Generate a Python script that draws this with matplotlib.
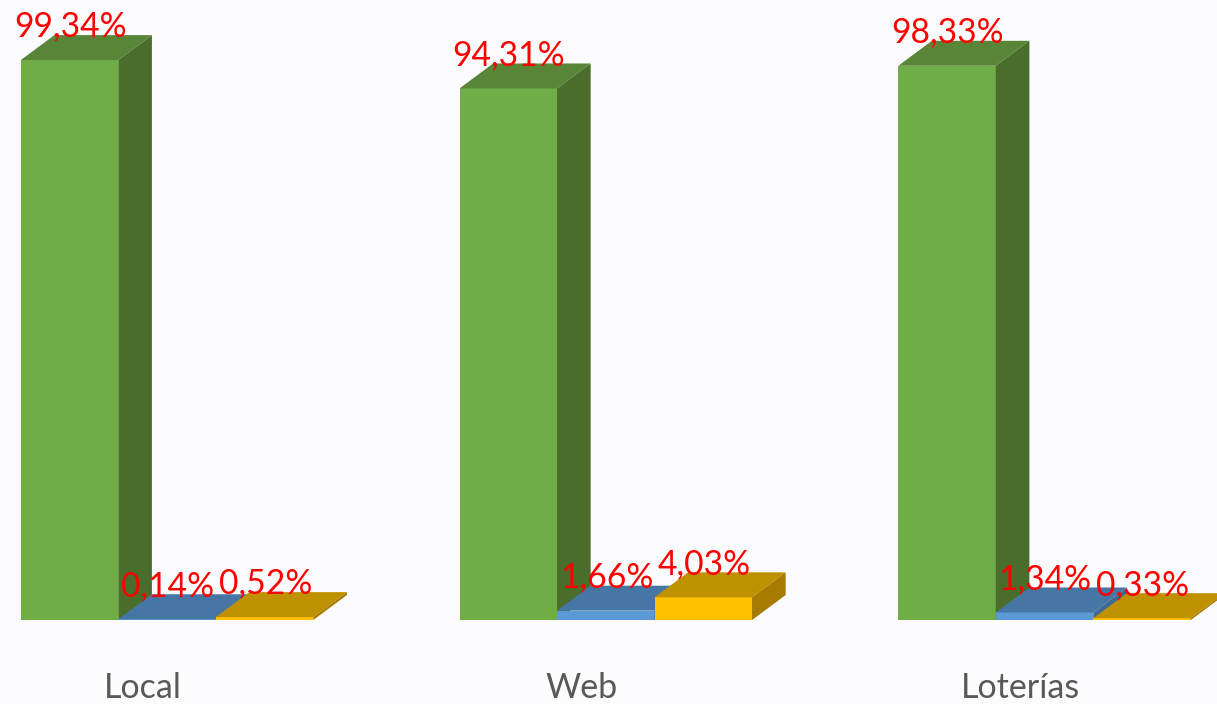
import matplotlib
matplotlib.use('Agg')
import matplotlib.pyplot as plt

# Define the data
categories = ['Local', 'Web', 'Loterías']
green_values = [99.34, 94.31, 98.33]
blue_values = [0.14, 1.66, 1.34]
gold_values = [0.52, 4.03, 0.33]
green_labels = ['99,34%', '94,31%', '98,33%']
blue_labels = ['0,14%', '1,66%', '1,34%']
gold_labels = ['0,52%', '4,03%', '0,33%']

# (front, top, side) colours of each series
green_colors = ('#70AD47', '#598538', '#4A6D2C')
blue_colors = ('#5B9BD5', '#4676A3', '#3E6A93')
gold_colors = ('#FFC000', '#BF9000', '#A67C00')

plt.rcParams['font.family'] = ['Lato', 'DejaVu Sans']

fig = plt.figure(figsize=(12.17, 7.04), dpi=100, facecolor='#FCFCFE')
ax = fig.add_axes([0, 0, 1, 1])
ax.set_xlim(-1.713, 10.769)
ax.set_ylim(-14.9, 110.0)
ax.axis('off')

bar_width = 1.0
group_step = 4.5
depth_x = 0.345
depth_y = 4.43


def draw_bar(x, value, colors, label):
    front, top, side = colors
    left = x - bar_width / 2
    right = x + bar_width / 2
    ax.bar(x, value, width=bar_width, color=front, zorder=2)
    # top face
    ax.fill([left, right, right + depth_x, left + depth_x],
            [value, value, value + depth_y, value + depth_y],
            color=top, lw=0, zorder=2)
    # side face
    ax.fill([right, right + depth_x, right + depth_x, right],
            [0, depth_y, value + depth_y, value],
            color=side, lw=0, zorder=2)
    ax.annotate(label, (x, value), xytext=(0.5, 24), textcoords='offset points',
                ha='center', va='center', color='#FF0000', fontsize=24.2, zorder=5)


for i, name in enumerate(categories):
    center = i * group_step
    draw_bar(center - bar_width, green_values[i], green_colors, green_labels[i])
    draw_bar(center, blue_values[i], blue_colors, blue_labels[i])
    draw_bar(center + bar_width, gold_values[i], gold_colors, gold_labels[i])
    ax.text(center - 0.25, -12.05, name, ha='center', va='center',
            color='#595959', fontsize=24.5)

fig.savefig('out.png', dpi=100, facecolor=fig.get_facecolor())
